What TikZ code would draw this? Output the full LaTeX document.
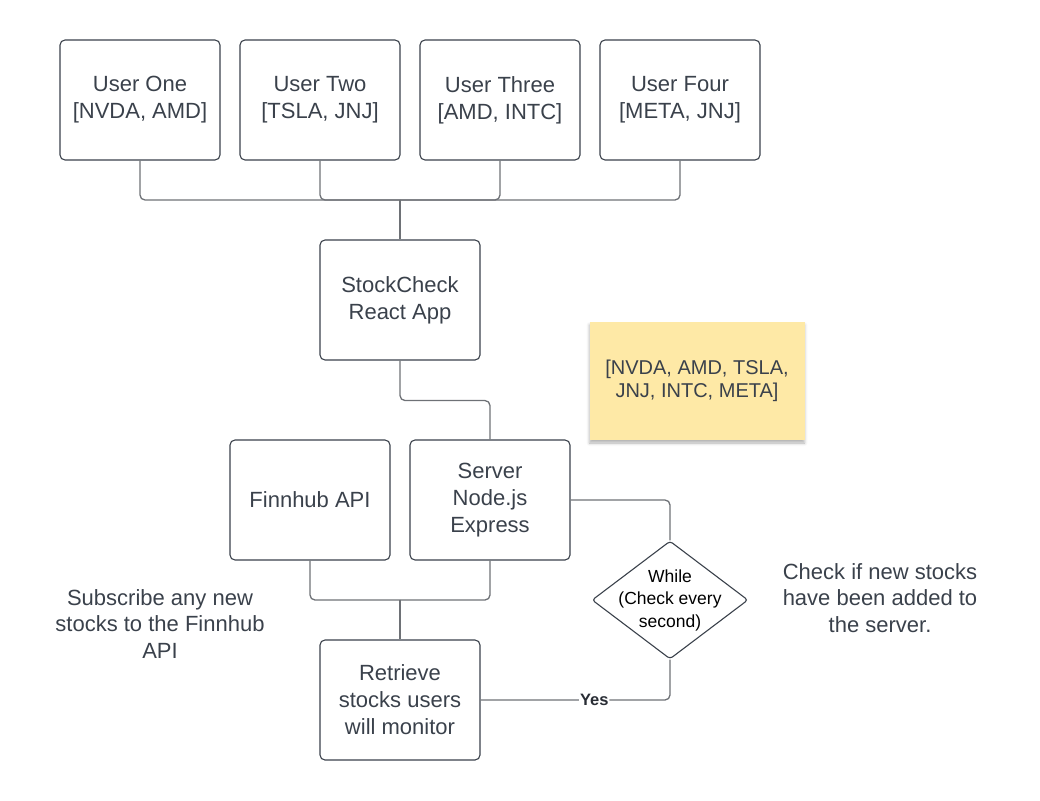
\documentclass[tikz,border=0pt]{standalone}
\usepackage{fontspec}
\setmainfont{Liberation Sans}
\usetikzlibrary{shapes.geometric,shadows.blur}
\definecolor{txt}{HTML}{3A414B}
\definecolor{edge}{HTML}{6E7176}
\definecolor{sticky}{HTML}{FEE9A6}
\tikzset{
  box/.style={draw=txt, line width=1.1pt, rounded corners=5pt, minimum width=160pt, minimum height=120pt, inner sep=0pt, align=center, text=txt, font=\fontsize{22}{27}\selectfont},
  conn/.style={draw=edge, line width=1.3pt, rounded corners=5pt},
  plain/.style={align=center, text=txt, font=\fontsize{22}{26.5}\selectfont},
}
\begin{document}
\begin{tikzpicture}[x=1pt,y=-1pt]
\useasboundingbox (0,0) rectangle (1040,800);
% users
\node[box] (u1) at (140,100) {User One\\{[NVDA, AMD]}};
\node[box] (u2) at (320,100) {User Two\\{[TSLA, JNJ]}};
\node[box] (u3) at (500,100) {User Three\\{[AMD, INTC]}};
\node[box] (u4) at (680,100) {User Four\\{[META, JNJ]}};
\node[box] (sc) at (400,300) {StockCheck\\React App};
\node[box] (fh) at (310,500) {Finnhub API};
\node[box] (srv) at (490,500) {Server\\Node.js\\Express};
\node[box] (ret) at (400,700) {Retrieve\\stocks users\\will monitor};
\node[draw=txt, line width=1.1pt, diamond, rounded corners=3pt, minimum width=156pt, minimum height=118pt, inner sep=0pt] (dia) at (670,600) {};
\node[align=center, text=black, font=\fontsize{17.5}{22.5}\selectfont] (diat) at (670,600) {While\\(Check every\\second)};
% sticky note
\node[fill=sticky, minimum width=215pt, minimum height=118pt, inner sep=0pt, align=center, text=txt, font=\fontsize{20}{23.5}\selectfont,
  blur shadow={shadow xshift=0pt, shadow yshift=-3pt, shadow blur radius=3pt, shadow opacity=30}] (note) at (697,381) {{[NVDA, AMD, TSLA,}\\JNJ, INTC, META]};
% free texts
\node[plain] (t1) at (160,624) {Subscribe any new\\stocks to the Finnhub\\API};
\node[plain] (t2) at (880,598) {Check if new stocks\\have been added to\\the server.};
% connectors
\coordinate (j1) at (400,200);
\coordinate (j2) at (400,600);
\draw[conn] (u1.south) |- (j1);
\draw[conn] (u2.south) |- (j1);
\draw[conn] (u3.south) |- (j1);
\draw[conn] (u4.south) |- (j1);
\draw[conn] (j1) -- (sc.north);
\draw[conn] (sc.south) -- ++(0,40) -| (srv.north);
\draw[conn] (srv.east) -| (dia.north);
\draw[conn] (fh.south) |- (j2);
\draw[conn] (srv.south) |- (j2);
\draw[conn] (j2) -- (ret.north);
\draw[conn] (dia.south) |- (ret.east) node[pos=0.7, fill=white, inner sep=1pt, text=txt!70!black, font=\bfseries\fontsize{16.5}{18}\selectfont] (yes) {Yes};
\end{tikzpicture}
\end{document}
